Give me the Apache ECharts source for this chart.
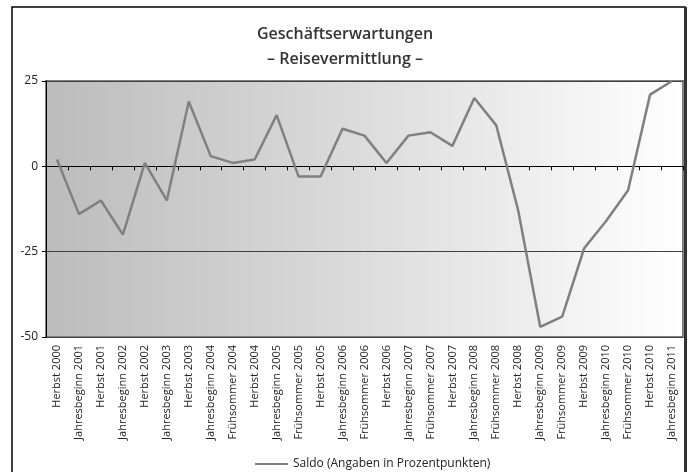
<!DOCTYPE html>
<html>
<head>
<meta charset="utf-8">
<script src="https://cdn.jsdelivr.net/npm/echarts@6/dist/echarts.min.js"></script>
<style>
  html, body { margin: 0; padding: 0; background: #fff; }
  #chart { width: 690px; height: 472px; }
</style>
</head>
<body>
<div id="chart"></div>
<script>
// Survey periods (x axis)
const periods = [
  'Herbst 2000', 'Jahresbeginn 2001', 'Herbst 2001', 'Jahresbeginn 2002', 'Herbst 2002',
  'Jahresbeginn 2003', 'Herbst 2003', 'Jahresbeginn 2004', 'Frühsommer 2004', 'Herbst 2004',
  'Jahresbeginn 2005', 'Frühsommer 2005', 'Herbst 2005', 'Jahresbeginn 2006', 'Frühsommer 2006',
  'Herbst 2006', 'Jahresbeginn 2007', 'Frühsommer 2007', 'Herbst 2007', 'Jahresbeginn 2008',
  'Frühsommer 2008', 'Herbst 2008', 'Jahresbeginn 2009', 'Frühsommer 2009', 'Herbst 2009',
  'Jahresbeginn 2010', 'Frühsommer 2010', 'Herbst 2010', 'Jahresbeginn 2011'
];

// Balance of expectations, percentage points
const saldo = [
  2, -14, -10, -20, 1,
  -10, 19, 3, 1, 2,
  15, -3, -3, 11, 9,
  1, 9, 10, 6, 20,
  12, -13, -47, -44, -24,
  -16, -7, 21, 25
];

const seriesName = 'Saldo (Angaben in Prozentpunkten)';
const titleLines = ['Geschäftserwartungen', '– Reisevermittlung –'];

// Value axis range and step
const yMin = -50;
const yMax = 25;
const yStep = 25;

const chart = echarts.init(document.getElementById('chart'));

chart.setOption({
  backgroundColor: '#ffffff',
  animation: false,
  title: {
    text: titleLines.join('\n'),
    left: 'center',
    top: 17,
    textStyle: {
      fontFamily: 'Open Sans',
      fontWeight: 600,
      fontSize: 16,
      lineHeight: 25,
      color: '#333333'
    }
  },
  legend: {
    data: [seriesName],
    left: 250,
    top: 453,
    icon: 'rect',
    itemWidth: 33,
    itemHeight: 2,
    textStyle: {
      fontFamily: 'Open Sans',
      fontSize: 12,
      color: '#222222'
    }
  },
  grid: {
    left: 46,
    right: 7,
    top: 81,
    bottom: 135,
    show: true,
    borderColor: '#808080',
    borderWidth: 2,
    backgroundColor: new echarts.graphic.LinearGradient(0, 0, 1, 0, [
      { offset: 0, color: '#bcbcbc' },
      { offset: 0.5, color: '#dcdcdc' },
      { offset: 1, color: '#ffffff' }
    ])
  },
  xAxis: {
    type: 'category',
    data: periods,
    boundaryGap: true,
    axisLine: { show: true, lineStyle: { color: '#000000', width: 1 } },
    axisTick: { show: true, alignWithLabel: false, length: 4, lineStyle: { color: '#000000' } },
    axisLabel: {
      interval: 0,
      rotate: 90,
      margin: 8,
      fontFamily: 'Open Sans',
      fontSize: 11,
      color: '#222222'
    },
    splitLine: { show: false }
  },
  yAxis: {
    type: 'value',
    min: yMin,
    max: yMax,
    interval: yStep,
    axisLine: { show: true, lineStyle: { color: '#000000', width: 1 } },
    axisTick: { show: true, length: 4, lineStyle: { color: '#000000' } },
    axisLabel: {
      margin: 8,
      fontFamily: 'Open Sans',
      fontSize: 12,
      color: '#222222'
    },
    splitLine: { show: true, lineStyle: { color: '#404040', width: 1 } }
  },
  series: [{
    name: seriesName,
    type: 'line',
    data: saldo,
    symbol: 'none',
    lineStyle: { color: '#808080', width: 2.5 },
    itemStyle: { color: '#808080' }
  }],
  graphic: [
    {
      type: 'rect',
      silent: true,
      shape: { x: 12, y: 7, width: 673, height: 480 },
      style: { fill: 'none', stroke: '#000000', lineWidth: 1.5 },
      z: 100
    },
    {
      type: 'line',
      silent: true,
      shape: { x1: 685.5, y1: 7, x2: 685.5, y2: 472 },
      style: { stroke: '#333333', lineWidth: 3 },
      z: 100
    }
  ]
});
</script>
</body>
</html>
